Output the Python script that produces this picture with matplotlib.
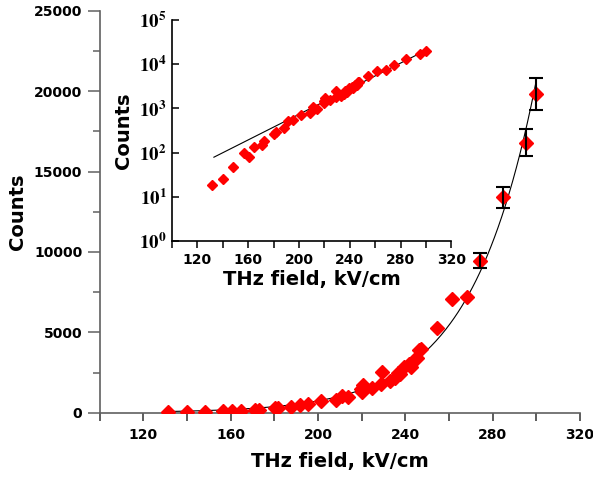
import numpy as np
import matplotlib
matplotlib.use("Agg")
import matplotlib.pyplot as plt
from matplotlib.ticker import MultipleLocator, FixedLocator, FixedFormatter, NullFormatter

plt.rcParams['font.family'] = ['DejaVu Sans']
plt.rcParams['mathtext.fontset'] = 'stix'

# THz field (kV/cm) and measured counts
field = [131.5, 140.0, 148.4, 156.5, 160.5, 164.8, 171.0, 172.8, 180.5, 181.5,
         187.8, 191.7, 195.3, 201.5, 208.3, 210.8, 213.8, 219.5, 220.5, 220.0,
         224.6, 229.2, 228.8, 232.8, 235.5, 236.5, 237.8, 239.3, 241.5, 242.5,
         244.0, 245.3, 246.3, 247.0, 254.4, 261.5, 268.2, 274.4, 284.6, 295.4,
         299.9]
counts = [18, 25, 48, 100, 78, 132, 148, 183, 264, 297,
          360, 510, 550, 720, 770, 1050, 990, 1450, 1700, 1310,
          1560, 2510, 1810, 1950, 2150, 2450, 2400, 2850, 3000, 2870,
          3300, 3400, 3900, 3950, 5300, 7050, 7200, 9450, 13400, 16800,
          19800]

# error bars on the four highest points
err_field = [274.4, 284.6, 295.4, 299.9]
err_counts = [9450, 13400, 16800, 19800]
err_size = [470, 650, 850, 1000]

# exponential fit: counts = 10**(fit_a + fit_b * field)
fit_b = 0.01449
fit_a = 1.91 - fit_b * 134.0
fit_range = [133.0, 299.8]

fx = np.linspace(fit_range[0], fit_range[1], 300)
fy = 10 ** (fit_a + fit_b * fx)

fig = plt.figure(figsize=(5.93, 4.79), dpi=100)

# main axes
ax = fig.add_axes([0.168, 0.1384, 0.810, 0.839])
ax.plot(fx, fy, color='black', lw=0.8, zorder=2)
ax.plot(field, counts, 'D', color='#ff0000', ms=7, mec='#ff0000', zorder=3)
ax.errorbar(err_field, err_counts, yerr=err_size, fmt='none', ecolor='black',
            elinewidth=1.5, capsize=5, capthick=1.5, zorder=4)
ax.set_xlim(100, 320)
ax.set_ylim(0, 25000)
ax.xaxis.set_major_locator(MultipleLocator(40))
ax.xaxis.set_minor_locator(MultipleLocator(20))
ax.yaxis.set_major_locator(MultipleLocator(5000))
ax.yaxis.set_minor_locator(MultipleLocator(2500))
ax.set_xticks([120, 160, 200, 240, 280, 320])
for s in ['top', 'right']:
    ax.spines[s].set_visible(False)
for s in ['left', 'bottom']:
    ax.spines[s].set_color('#606060')
    ax.spines[s].set_linewidth(1.2)
ax.tick_params(which='major', axis='y', direction='out', length=9, width=1.1, color='#606060')
ax.tick_params(which='minor', axis='y', direction='out', length=5, width=1.1, color='#606060')
ax.tick_params(which='both', axis='x', direction='out', length=6, width=1.1, color='#303030', pad=5)
ax.tick_params(labelsize=10)
for lab in ax.get_xticklabels() + ax.get_yticklabels():
    lab.set_fontweight('bold')
ax.set_xlabel('THz field, kV/cm', fontsize=14, fontweight='bold', labelpad=7)
ax.set_ylabel('Counts', fontsize=14, fontweight='bold', labelpad=5)

# inset, log scale
ins = fig.add_axes([0.290, 0.4969, 0.4713, 0.4614])
ins.plot(fx, fy, color='black', lw=0.8, zorder=2)
ins.plot(field, counts, 'D', color='#ff0000', ms=5, mec='#ff0000', zorder=3)
ins.set_yscale('log')
ins.set_xlim(100, 320)
ins.set_ylim(1, 1e5)
ins.set_xticks([120, 160, 200, 240, 280, 320])
ins.xaxis.set_minor_locator(MultipleLocator(20))
ins.yaxis.set_major_locator(FixedLocator([1, 10, 100, 1000, 1e4, 1e5]))
ins.yaxis.set_major_formatter(FixedFormatter(
    [r'$\mathbf{10^{%d}}$' % i for i in range(6)]))
ins.yaxis.set_minor_formatter(NullFormatter())
for s in ['top', 'right']:
    ins.spines[s].set_visible(False)
for s in ['left', 'bottom']:
    ins.spines[s].set_linewidth(1.2)
ins.tick_params(axis='y', which='major', direction='in', length=5, width=1.1, labelsize=13.5, pad=4)
ins.tick_params(axis='y', which='minor', direction='in', length=3, width=0.8)
ins.tick_params(axis='x', which='both', direction='out', length=5, width=1.1, labelsize=10)
for lab in ins.get_xticklabels():
    lab.set_fontweight('bold')
ins.set_xlabel('THz field, kV/cm', fontsize=14, fontweight='bold', labelpad=2)
ins.set_ylabel('Counts', fontsize=14, fontweight='bold', labelpad=4)

fig.savefig('out.png', dpi=100)
